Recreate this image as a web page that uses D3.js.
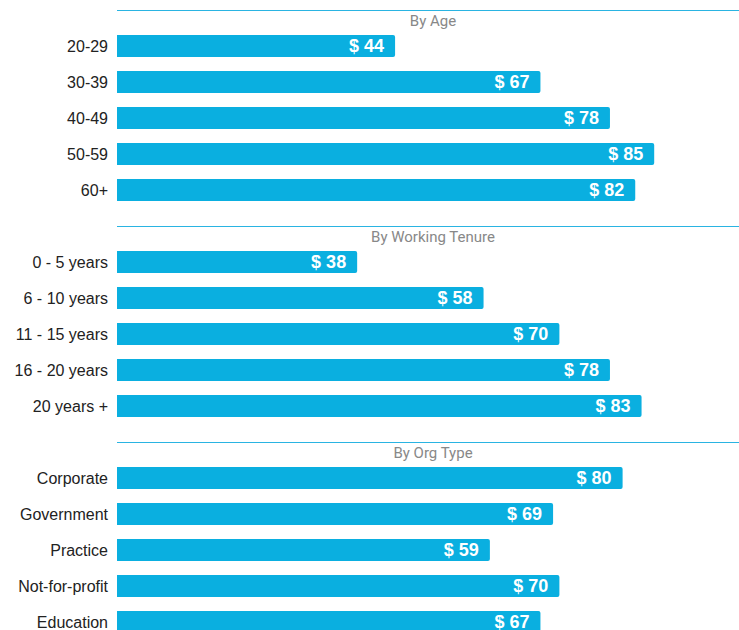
<!DOCTYPE html>
<html>
<head>
<meta charset="utf-8">
<script src="https://cdn.jsdelivr.net/npm/d3@7"></script>
<style>
  html, body { margin: 0; padding: 0; background: #fff; }
  svg { display: block; }
</style>
</head>
<body>
<svg id="chart" width="739" height="630"></svg>
<script>
const sectionTitles = ['By Age', 'By Working Tenure', 'By Org Type']

const ageCats = ['20-29', '30-39', '40-49', '50-59', '60+']
const ageVals = [44, 67, 78, 85, 82]

const tenureCats = ['0 - 5 years', '6 - 10 years', '11 - 15 years', '16 - 20 years', '20 years +']
const tenureVals = [38, 58, 70, 78, 83]

const orgCats = ['Corporate', 'Government', 'Practice', 'Not-for-profit', 'Education']
const orgVals = [80, 69, 59, 70, 67]

const sections = [
    { title: sectionTitles[0], cats: ageCats, vals: ageVals },
    { title: sectionTitles[1], cats: tenureCats, vals: tenureVals },
    { title: sectionTitles[2], cats: orgCats, vals: orgVals }
]

const barColor = '#0aafe0'
const lineColor = '#2ab4e2'
const left = 117
const right = 749
const sectionHeight = 216
const top0 = 10

const svg = d3.select('#chart')

const x = d3.scaleLinear().domain([0, 100]).range([left, right])

sections.forEach((s, si) => {
    const top = top0 + si * sectionHeight
    const g = svg.append('g')

    // section rule + title
    g.append('line')
        .attr('x1', left).attr('x2', right)
        .attr('y1', top + 0.5).attr('y2', top + 0.5)
        .attr('stroke', lineColor)
        .attr('stroke-width', 1.2)

    g.append('text')
        .attr('x', (left + right) / 2)
        .attr('y', top + 16)
        .attr('text-anchor', 'middle')
        .attr('font-family', 'Roboto, "Liberation Sans", sans-serif')
        .attr('font-size', 15)
        .attr('fill', '#888')
        .text(s.title)

    const y = d3.scaleBand()
        .domain(s.cats)
        .range([top + 18, top + 198])
        .paddingInner(0.39)
        .paddingOuter(0.195)

    const rows = s.cats.map((c, i) => ({ cat: c, val: s.vals[i] }))

    g.selectAll('rect.bar')
        .data(rows)
        .enter()
        .append('rect')
        .attr('class', 'bar')
        .attr('x', x(0))
        .attr('y', d => y(d.cat))
        .attr('width', d => x(d.val) - x(0))
        .attr('height', y.bandwidth())
        .attr('rx', 2)
        .attr('fill', barColor)

    // square off the left end of each bar
    g.selectAll('rect.cap')
        .data(rows)
        .enter()
        .append('rect')
        .attr('class', 'cap')
        .attr('x', x(0))
        .attr('y', d => y(d.cat))
        .attr('width', 4)
        .attr('height', y.bandwidth())
        .attr('fill', barColor)

    g.selectAll('text.value')
        .data(rows)
        .enter()
        .append('text')
        .attr('class', 'value')
        .attr('x', d => x(d.val) - 11)
        .attr('y', d => y(d.cat) + y.bandwidth() / 2)
        .attr('dy', '0.36em')
        .attr('text-anchor', 'end')
        .attr('font-family', '"Liberation Sans", Arial, sans-serif')
        .attr('font-weight', 'bold')
        .attr('font-size', 18)
        .attr('fill', '#fff')
        .text(d => '$ ' + d.val)

    g.selectAll('text.cat')
        .data(rows)
        .enter()
        .append('text')
        .attr('class', 'cat')
        .attr('x', left - 9)
        .attr('y', d => y(d.cat) + y.bandwidth() / 2)
        .attr('dy', '0.36em')
        .attr('text-anchor', 'end')
        .attr('font-family', '"Liberation Sans", Arial, sans-serif')
        .attr('font-size', 16)
        .attr('fill', '#222')
        .text(d => d.cat)
})
</script>
</body>
</html>
